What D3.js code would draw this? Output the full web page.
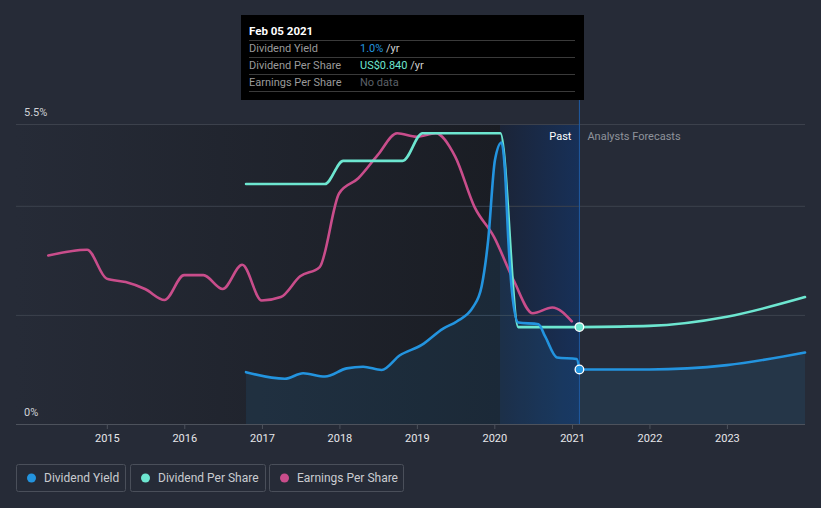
<!DOCTYPE html>
<html><head><meta charset="utf-8">
<script src="https://cdn.jsdelivr.net/npm/d3@7"></script>
<style>body{margin:0;background:#262b37;} svg{display:block;font-family:Roboto, "Open Sans", sans-serif;}</style>
</head><body><svg id="c" width="821" height="508"></svg>
<script>
// ---------- DATA ----------
const yearTicks = [2015, 2016, 2017, 2018, 2019, 2020, 2021, 2022, 2023];
const yTickValues = [0, 2, 4, 5.5];
const yTickLabels = [{v: 0, t: "0%"}, {v: 5.5, t: "5.5%"}];
const seriesNames = ["Dividend Yield", "Dividend Per Share", "Earnings Per Share"];
const seriesColors = ["#2394df", "#6de6d0", "#c94d8b"];

const dividendYieldPast = [
  ["2016-10-18",0.95],["2017-04-19",0.83],["2017-07-14",0.93],["2017-10-25",0.87],
  ["2018-02-04",1.02],["2018-04-23",1.05],["2018-07-19",0.99],["2018-10-13",1.26],
  ["2019-01-24",1.45],["2019-05-05",1.75],["2019-07-08",1.88],["2019-09-24",2.15],
  ["2019-11-02",2.52],["2019-12-03",3.37],["2020-01-04",4.84],["2020-02-04",5.16],
  ["2020-02-20",4.66],["2020-03-07",3.37],["2020-03-25",2.4],["2020-04-23",1.86],
  ["2020-07-27",1.83],["2020-08-28",1.60],["2020-10-22",1.22],["2021-01-23",1.19],
  ["2021-02-05",1.00]
];
const dividendYieldForecast = [
  ["2021-02-05",1.00],["2022-01-01",1.00],["2023-01-01",1.08],["2024-01-04",1.31]
];
const dpsPast = [
  ["2016-10-18",2.08],["2017-10-25",2.08],["2018-01-19",2.28],["2018-10-26",2.28],
  ["2019-01-28",2.52],["2020-01-30",2.52],["2020-04-23",0.84],["2021-02-05",0.84]
];
const dpsForecast = [
  ["2021-02-05",0.84],["2022-01-01",0.85],["2023-01-01",0.93],["2024-01-04",1.10]
];
const epsPast = [
  ["2014-03-31",1.46],["2014-09-30",1.51],["2014-12-31",1.26],["2015-03-31",1.23],
  ["2015-06-30",1.17],["2015-09-30",1.075],["2015-12-31",1.29],["2016-03-31",1.29],
  ["2016-06-30",1.17],["2016-09-30",1.38],["2016-12-31",1.07],["2017-03-31",1.10],
  ["2017-06-30",1.28],["2017-09-30",1.36],["2017-12-31",2.00],["2018-03-31",2.13],
  ["2018-06-30",2.33],["2018-09-30",2.52],["2018-12-31",2.49],["2019-03-31",2.52],
  ["2019-06-30",2.32],["2019-09-30",1.88],["2019-12-31",1.62],["2020-03-31",1.25],
  ["2020-06-30",0.96],["2020-09-30",1.01],["2020-12-31",0.89]
];
const tooltipDate = "Feb 05 2021";
const tooltipRows = [
  {label: "Dividend Yield", value: "1.0%", unit: " /yr", color: "#2394df"},
  {label: "Dividend Per Share", value: "US$0.840", unit: " /yr", color: "#6de6d0"},
  {label: "Earnings Per Share", value: "No data", unit: "", color: "#5c6068"}
];
const nowDate = "2021-02-05";
const pastBandStart = "2020-01-28";

// ---------- SETUP ----------
const parse = d3.timeParse("%Y-%m-%d");
const svg = d3.select("#c");
const L = 16, R = 805, T = 124, B = 424;
const x = d3.scaleTime().domain([new Date(2013, 9, 30), new Date(2024, 0, 4)]).range([L, R]);
const yYield = d3.scaleLinear().domain([0, 5.5]).range([B, T]);
const yDps = d3.scaleLinear().domain([0, 2.6]).range([B, T]);
const yEps = d3.scaleLinear().domain([0, 2.6]).range([B, T]);
const P = a => a.map(d => ({d: parse(d[0]), v: d[1]}));

const defs = svg.append("defs");
const g1 = defs.append("linearGradient").attr("id", "darkBand").attr("x1", 0).attr("x2", 1).attr("y1", 0).attr("y2", 0);
g1.append("stop").attr("offset", 0).attr("stop-color", "#262b37");
g1.append("stop").attr("offset", 1).attr("stop-color", "#1a1d24");
const g2 = defs.append("linearGradient").attr("id", "pastBand").attr("x1", 0).attr("x2", 1).attr("y1", 0).attr("y2", 0);
g2.append("stop").attr("offset", 0).attr("stop-color", "#1b2437");
g2.append("stop").attr("offset", 1).attr("stop-color", "#173058");

const xNow = x(parse(nowDate)), xBand = x(parse(pastBandStart));
svg.append("rect").attr("x", L).attr("y", T).attr("width", xBand - L).attr("height", B - T).attr("fill", "url(#darkBand)");
svg.append("rect").attr("x", xBand).attr("y", T).attr("width", xNow - xBand).attr("height", B - T).attr("fill", "url(#pastBand)");

// grid
const grid = svg.append("g").attr("transform", `translate(${L},0)`)
  .call(d3.axisLeft(yYield).tickValues(yTickValues).tickSize(-(R - L)).tickFormat(""));
grid.select(".domain").remove();
grid.selectAll("line").attr("stroke", "#3c414c").attr("stroke-width", 1);

svg.selectAll(".ylab").data(yTickLabels).join("text")
  .attr("x", 24).attr("y", d => yYield(d.v) - 8).attr("fill", "#d0d2d6")
  .attr("font-size", 11).text(d => d.t);

// x axis
const xa = svg.append("g").attr("transform", `translate(0,${B})`)
  .call(d3.axisBottom(x).tickValues(yearTicks.map(y => new Date(y, 0, 1))).tickFormat(d3.timeFormat("%Y")).tickSize(5).tickPadding(5));
xa.select(".domain").attr("stroke", "#4d525c").attr("d", `M${L},0.5H${R}`);
xa.selectAll(".tick line").attr("stroke", "#4d525c");
xa.selectAll(".tick text").attr("fill", "#e6e7ea").attr("font-size", 11).attr("font-family", "Roboto, sans-serif");

// yield area
const yAll = P(dividendYieldPast).concat(P(dividendYieldForecast).slice(1));
svg.append("path").datum(yAll)
  .attr("d", d3.area().curve(d3.curveMonotoneX).x(d => x(d.d)).y0(B).y1(d => yYield(d.v)))
  .attr("fill", "#2394df").attr("fill-opacity", 0.11);

// now line
svg.append("line").attr("x1", xNow).attr("x2", xNow).attr("y1", 100).attr("y2", B)
  .attr("stroke", "#1f5ba3").attr("stroke-width", 1);

const line = (ys) => d3.line().curve(d3.curveMonotoneX).x(d => x(d.d)).y(d => ys(d.v));
function draw(data, ys, color) {
  svg.append("path").datum(P(data)).attr("d", line(ys)).attr("fill", "none")
    .attr("stroke", color).attr("stroke-width", 2.6).attr("stroke-linecap", "round");
}
draw(epsPast, yEps, seriesColors[2]);
draw(dpsPast, yDps, seriesColors[1]);
draw(dpsForecast, yDps, seriesColors[1]);
draw(dividendYieldPast, yYield, seriesColors[0]);
draw(dividendYieldForecast, yYield, seriesColors[0]);

svg.append("circle").attr("cx", xNow).attr("cy", yDps(dpsForecast[0][1])).attr("r", 4.3)
  .attr("fill", seriesColors[1]).attr("stroke", "#fff").attr("stroke-width", 1.3);
svg.append("circle").attr("cx", xNow).attr("cy", yYield(dividendYieldForecast[0][1])).attr("r", 4.3)
  .attr("fill", seriesColors[0]).attr("stroke", "#fff").attr("stroke-width", 1.3);

svg.append("text").attr("x", xNow - 8).attr("y", 140).attr("text-anchor", "end")
  .attr("fill", "#ffffff").attr("font-size", 11).text("Past");
svg.append("text").attr("x", xNow + 8).attr("y", 140)
  .attr("fill", "#8f939b").attr("font-size", 11).text("Analysts Forecasts");

// tooltip
const tt = svg.append("g");
tt.append("rect").attr("x", 241).attr("y", 15).attr("width", 343).attr("height", 85).attr("fill", "#000");
tt.append("text").attr("x", 249).attr("y", 35).attr("fill", "#fff").attr("font-size", 11.5).attr("font-weight", "bold").text(tooltipDate);
[40.5, 57.5, 74.5, 91.5].forEach(yy => tt.append("line").attr("x1", 249).attr("x2", 575).attr("y1", yy).attr("y2", yy).attr("stroke", "#3a3a3a"));
tooltipRows.forEach((r, i) => {
  const yy = 52 + i * 17;
  tt.append("text").attr("x", 249).attr("y", yy).attr("fill", "#9a9a9a").attr("font-size", 11).text(r.label);
  const t = tt.append("text").attr("x", 360).attr("y", yy).attr("font-size", 11);
  t.append("tspan").attr("fill", r.color).text(r.value);
  t.append("tspan").attr("fill", "#d0d0d0").text(r.unit);
});

// legend
const legX = [16, 130, 269], legW = [109, 135, 134];
seriesNames.forEach((n, i) => {
  const g = svg.append("g").attr("transform", `translate(${legX[i]},464)`);
  g.append("rect").attr("x", 0.5).attr("y", 0.5).attr("width", legW[i]).attr("height", 27).attr("rx", 2)
    .attr("fill", "none").attr("stroke", "#4a4f5a");
  g.append("circle").attr("cx", 15.5).attr("cy", 14).attr("r", 4.5).attr("fill", seriesColors[i]);
  g.append("text").attr("x", 28).attr("y", 18).attr("fill", "#c9cbd0").attr("font-size", 12).text(n);
});
</script></body></html>
